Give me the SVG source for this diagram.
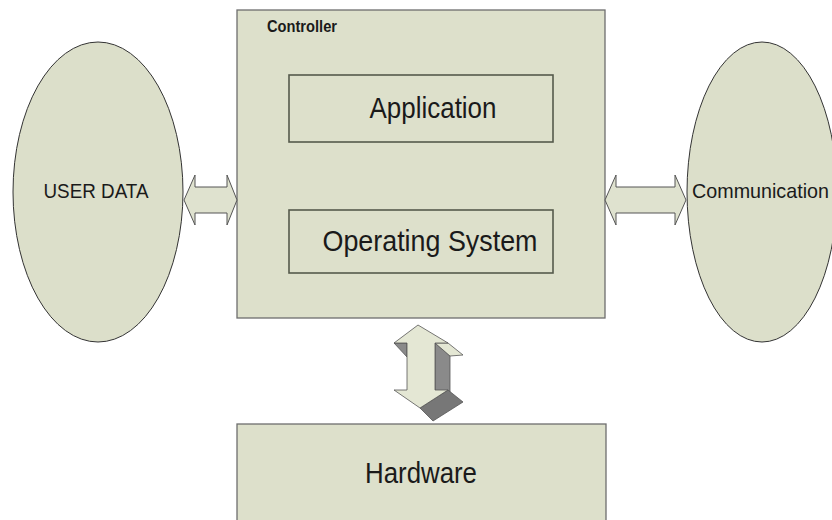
<svg xmlns="http://www.w3.org/2000/svg" width="832" height="520" viewBox="0 0 832 520">
<style>
.box{fill:#dde0cb;stroke:#6e6e6e;stroke-width:1.3}
.inner{fill:#dde0cb;stroke:#555a4c;stroke-width:1.6}
.ell{fill:#dcdfca;stroke:#333;stroke-width:1}
.arr{fill:#dfe2cf;stroke:#555;stroke-width:1}
.lbl{font-family:"Liberation Sans",Arial,sans-serif;fill:#1a1a1a}
.big{font-size:30px;text-anchor:middle}
</style>
<rect width="832" height="520" fill="#ffffff"/>
<g id="user-data">
<ellipse class="ell" cx="98" cy="192" rx="85" ry="150"/>
<text class="lbl" x="96" y="198" font-size="21" text-anchor="middle" textLength="105" lengthAdjust="spacingAndGlyphs">USER DATA</text>
</g>
<g id="communication">
<ellipse class="ell" cx="762" cy="192" rx="75" ry="150"/>
<text class="lbl" x="692" y="198" font-size="21" textLength="137" lengthAdjust="spacingAndGlyphs">Communication</text>
</g>
<g id="controller">
<rect class="box" x="237" y="10" width="368" height="308"/>
<text class="lbl" x="267" y="32" font-size="16" font-weight="bold" textLength="70" lengthAdjust="spacingAndGlyphs">Controller</text>
</g>
<g id="application">
<rect class="inner" x="289" y="75" width="264" height="67"/>
<text class="lbl big" x="433" y="118" textLength="127" lengthAdjust="spacingAndGlyphs">Application</text>
</g>
<g id="operating-system">
<rect class="inner" x="289" y="210" width="264" height="63"/>
<text class="lbl big" x="430" y="251" textLength="215" lengthAdjust="spacingAndGlyphs">Operating System</text>
</g>
<g id="hardware">
<rect class="box" x="237" y="424" width="369" height="110"/>
<text class="lbl big" x="421" y="483" textLength="112" lengthAdjust="spacingAndGlyphs">Hardware</text>
</g>
<g id="connectors">
<polygon class="arr" points="184,200 195,175 195,187 227,187 227,175 237,200 227,225 227,213 195,213 195,225"/>
<polygon class="arr" points="605,200 616,175 616,187 675,187 675,175 686,200 675,225 675,213 616,213 616,225"/>
<g stroke="#555" stroke-width="0.8" stroke-linejoin="round">
<polygon fill="#8a8a8a" points="435,343 450,356 450,403 435,390"/>
<polygon fill="#777" points="420,408 448,390 463,402 433,421"/>
<polygon fill="#8a8a8a" points="394,343 407,343 407,357"/>
<polygon fill="#e4e7d4" points="435,343 448,343 463,355 450,356"/>
<polygon fill="#e4e7d4" points="418,325 448,343 435,343 435,390 448,390 420,408 394,390 407,390 407,343 394,343"/>
</g>
</g>
</svg>
